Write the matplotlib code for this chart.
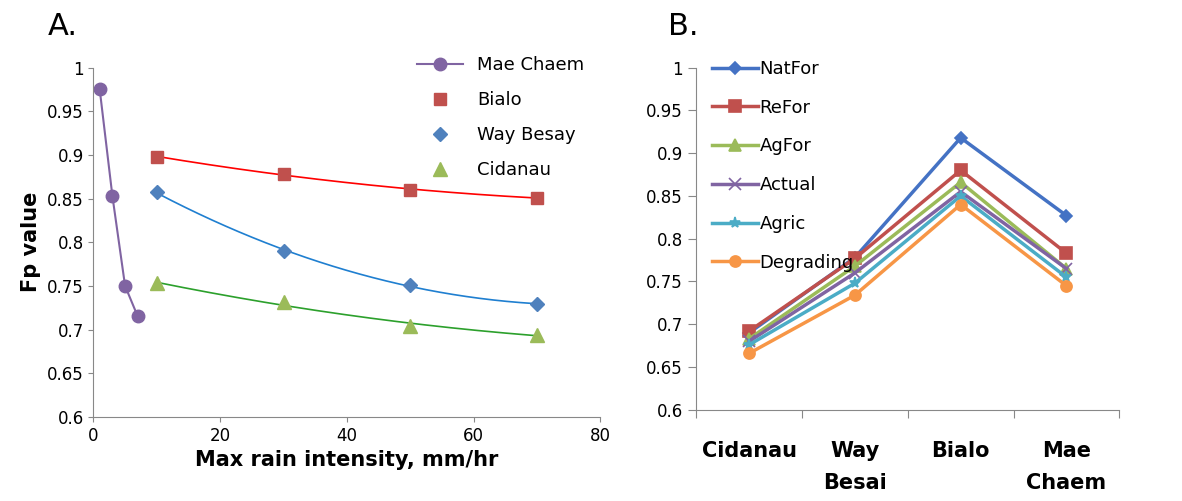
import matplotlib.pyplot as plt
import numpy as np

# Panel A data
mae_x = [1, 3, 5, 7]
mae_y = [0.975, 0.853, 0.750, 0.715]
site_x = [10, 30, 50, 70]
bialo_y = [0.898, 0.878, 0.860, 0.851]
waybesay_y = [0.857, 0.790, 0.751, 0.729]
cidanau_y = [0.753, 0.731, 0.704, 0.694]

# Panel B data
sites = ["Cidanau", "Way\nBesai", "Bialo", "Mae\nChaem"]
natfor = [0.690, 0.778, 0.918, 0.827]
refor = [0.692, 0.777, 0.880, 0.783]
agfor = [0.683, 0.768, 0.866, 0.765]
actual = [0.680, 0.760, 0.855, 0.765]
agric = [0.676, 0.748, 0.850, 0.755]
degrading = [0.666, 0.734, 0.840, 0.745]

plt.rcParams["font.family"] = "DejaVu Sans"
fig = plt.figure(figsize=(11.82, 5.01), dpi=100)

# ---- Panel A
axa = fig.add_axes([0.079, 0.168, 0.429, 0.697])
axa.plot(mae_x, mae_y, color="#8064a2", marker="o", ms=9, lw=1.5, label="Mae Chaem")
xs = np.linspace(10, 70, 200)
for y, col, lcol, mk, ms, lab in [
    (bialo_y, "#c0504d", "red", "s", 9, "Bialo"),
    (waybesay_y, "#4f81bd", "#1f7fd0", "D", 7, "Way Besay"),
    (cidanau_y, "#9bbb59", "#2ca02c", "^", 10, "Cidanau"),
]:
    fit = np.polyfit(site_x, y, 2)
    axa.plot(xs, np.polyval(fit, xs), color=lcol, lw=1.2)
    axa.plot(site_x, y, ls="none", marker=mk, ms=ms, color=col, label=lab)
axa.set_xlim(0, 80)
axa.set_ylim(0.6, 1.0)
axa.set_xticks(np.arange(0, 81, 20))
axa.set_yticks(np.arange(0.6, 1.001, 0.05))
axa.set_yticklabels(["0.6", "0.65", "0.7", "0.75", "0.8", "0.85", "0.9", "0.95", "1"])
axa.set_xlabel("Max rain intensity, mm/hr", fontsize=15, fontweight="bold")
axa.set_ylabel("Fp value", fontsize=15, fontweight="bold")
axa.tick_params(labelsize=12, color="#888888")
for s in ["top", "right"]:
    axa.spines[s].set_visible(False)
for s in ["left", "bottom"]:
    axa.spines[s].set_color("#888888")
axa.legend(loc="upper right", bbox_to_anchor=(1.0, 1.08), frameon=False, fontsize=13,
           labelspacing=0.95, handlelength=2.5)
fig.text(0.04, 0.93, "A.", fontsize=22)

# ---- Panel B
axb = fig.add_axes([0.589, 0.182, 0.358, 0.683])
xpos = np.arange(len(sites)) + 0.5
series = [
    (natfor, "NatFor", "#4472c4", "D", 6),
    (refor, "ReFor", "#c0504d", "s", 8),
    (agfor, "AgFor", "#9bbb59", "^", 8),
    (actual, "Actual", "#8064a2", "x", 8),
    (agric, "Agric", "#4bacc6", "*", 8),
    (degrading, "Degrading", "#f79646", "o", 8),
]
for y, lab, col, mk, ms in series:
    axb.plot(xpos, y, color=col, lw=2.5, marker=mk, ms=ms, mew=1.2, label=lab)
axb.set_xlim(0, 4)
axb.set_ylim(0.6, 1.0)
axb.set_xticks(np.arange(0, 5))
axb.set_xticklabels([])
for xp, s in zip(xpos, sites):
    axb.text(xp, 0.563, s, ha="center", va="top", fontsize=15, fontweight="bold",
             linespacing=1.7)
axb.set_yticks(np.arange(0.6, 1.001, 0.05))
axb.set_yticklabels(["0.6", "0.65", "0.7", "0.75", "0.8", "0.85", "0.9", "0.95", "1"])
axb.tick_params(labelsize=12, color="#888888", length=6)
for s in ["top", "right"]:
    axb.spines[s].set_visible(False)
for s in ["left", "bottom"]:
    axb.spines[s].set_color("#888888")
axb.legend(loc="upper left", bbox_to_anchor=(0.0, 1.07), frameon=False, fontsize=13,
           labelspacing=1.15, handlelength=2.5, handletextpad=0.1)
fig.text(0.565, 0.93, "B.", fontsize=22)

fig.savefig("out.png", dpi=100)
